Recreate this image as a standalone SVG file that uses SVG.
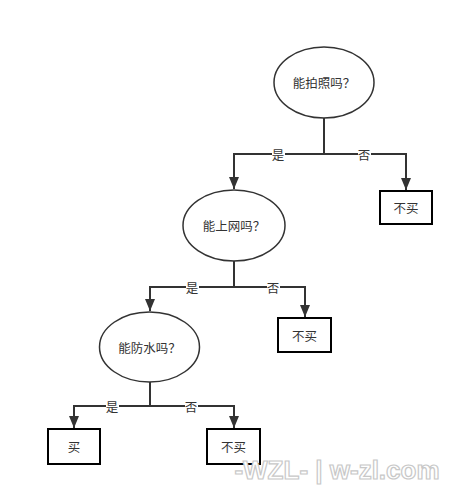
<svg xmlns="http://www.w3.org/2000/svg" width="464" height="496" viewBox="0 0 464 496">
<style>
.ell{fill:#fff;stroke:#333;stroke-width:1.5}
.box{fill:#fff;stroke:#000;stroke-width:2}
.t{font-family:"Noto Sans CJK SC","Liberation Sans",sans-serif;font-size:12.5px;fill:#333;text-anchor:middle;dominant-baseline:central}
.ln{fill:none;stroke:#333;stroke-width:2}
.lb{fill:#fff}
.wm{font-family:"Liberation Sans",sans-serif;font-weight:bold;font-size:26px;fill:#fff;stroke:#c8c8c8;stroke-width:1.2;text-anchor:middle}
</style>
<defs>
<marker id="ah" markerWidth="12" markerHeight="10" refX="12" refY="5" orient="auto" markerUnits="userSpaceOnUse" viewBox="0 0 12 10">
<path d="M0,0 L12,5 L0,10 Z" fill="#333"/>
</marker>
</defs>
<rect width="464" height="496" fill="#fff"/>
<g id="connectors">
<path class="ln" d="M324,118 V154"/>
<path class="ln" d="M324,154 H234 V189" marker-end="url(#ah)"/>
<path class="ln" d="M324,154 H406 V190" marker-end="url(#ah)"/>
<path class="ln" d="M234,261 V287"/>
<path class="ln" d="M234,287 H150 V311" marker-end="url(#ah)"/>
<path class="ln" d="M234,287 H305 V317" marker-end="url(#ah)"/>
<path class="ln" d="M150,382 V406"/>
<path class="ln" d="M150,406 H74 V428" marker-end="url(#ah)"/>
<path class="ln" d="M150,406 H234 V428" marker-end="url(#ah)"/>
<rect class="lb" x="272" y="148" width="13" height="12"/><text class="t" x="278" y="154">是</text>
<rect class="lb" x="358" y="148" width="13" height="12"/><text class="t" x="364" y="154">否</text>
<rect class="lb" x="186" y="281" width="13" height="12"/><text class="t" x="192" y="287">是</text>
<rect class="lb" x="267" y="281" width="13" height="12"/><text class="t" x="273" y="287">否</text>
<rect class="lb" x="106" y="400" width="13" height="12"/><text class="t" x="112" y="406">是</text>
<rect class="lb" x="185" y="400" width="13" height="12"/><text class="t" x="191" y="406">否</text>
</g>
<g id="q1"><ellipse class="ell" cx="324" cy="82.5" rx="50" ry="35.5"/><text class="t" x="324" y="82">能拍照吗？</text></g>
<g id="q2"><ellipse class="ell" cx="234" cy="225.5" rx="51" ry="35.5"/><text class="t" x="234" y="225">能上网吗？</text></g>
<g id="q3"><ellipse class="ell" cx="149.5" cy="347" rx="50" ry="35"/><text class="t" x="149.5" y="347">能防水吗？</text></g>
<g id="n1"><rect class="box" x="380" y="191" width="52" height="33"/><text class="t" x="406" y="207.5">不买</text></g>
<g id="n2"><rect class="box" x="278" y="318" width="53" height="34"/><text class="t" x="304.5" y="335">不买</text></g>
<g id="n3"><rect class="box" x="48" y="429" width="52" height="35"/><text class="t" x="74" y="446.5">买</text></g>
<g id="n4"><rect class="box" x="207" y="429" width="53" height="35"/><text class="t" x="233.5" y="446.5">不买</text></g>
<text class="wm" x="337" y="479">-WZL- | w-zl.com</text>
</svg>
